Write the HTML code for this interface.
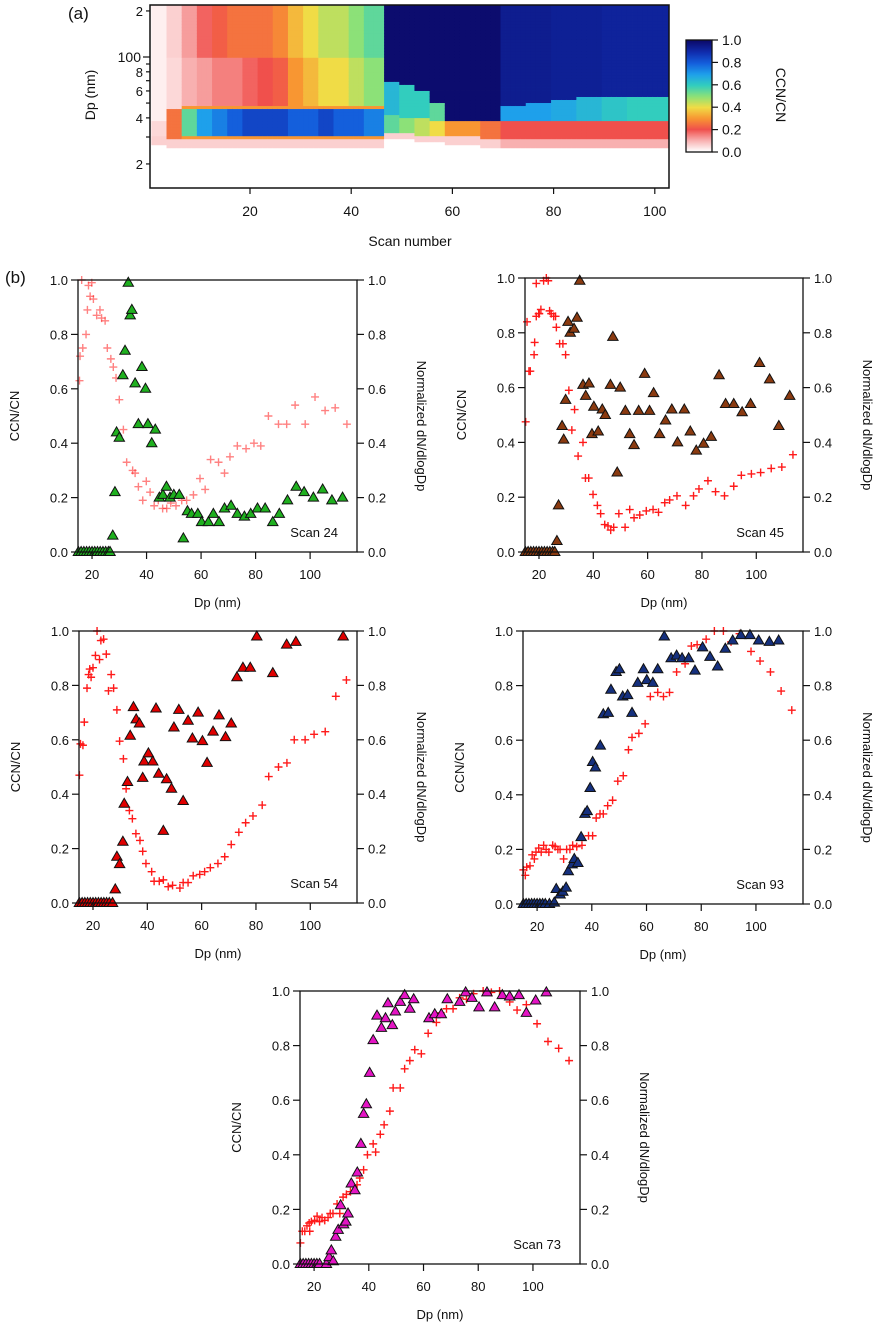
<!DOCTYPE html>
<html><head><meta charset="utf-8"><style>
html,body{margin:0;padding:0;background:#fff;}
svg{display:block;font-family:"Liberation Sans",Arial,sans-serif;}
</style></head><body>
<svg id="fig" width="873" height="1324" viewBox="0 0 873 1324"></svg>
<script>
// ---------- Heatmap segment data (scan-wise) ----------
const segStart   = [1,4,7,10,13,16,19,22,25,28,31,34,37,40,43,47,50,53,56,59,62,66,70,75,80,85,90,95,100];
const segLow     = [30,29,29,29,29,29,29,29,29,29,29,29,29,29,29,32,32,31,31,30,30,29,29,29,29,29,29,29,29];
const segBandTop = [38,45,48,49,49,49,49,49,49,49,49,49,48,48,48,42,40,40,38,38,38,38,39,39,39,39,39,39,39];
const segBandVal = [0.05,0.25,0.55,0.7,0.75,0.8,0.85,0.85,0.85,0.8,0.8,0.85,0.8,0.8,0.75,0.55,0.5,0.45,0.4,0.3,0.3,0.25,0.2,0.2,0.2,0.2,0.2,0.2,0.2];
const segMidVal  = [0.02,0.05,0.1,0.12,0.15,0.15,0.18,0.2,0.22,0.3,0.35,0.4,0.4,0.45,0.5,0.65,0.6,0.6,0.55,1,1,1,0.7,0.7,0.68,0.65,0.62,0.6,0.6];
const segSplit   = [100,100,100,100,100,100,100,100,100,100,100,100,100,100,100,70,65,60,50,38,38,38,48,50,52,55,55,55,55];
const segTopVal  = [0.02,0.06,0.12,0.18,0.22,0.25,0.25,0.25,0.28,0.35,0.4,0.45,0.45,0.5,0.55,1,1,1,1,1,1,1,0.95,0.95,0.94,0.94,0.93,0.93,0.93];
const nScans = 103;
const cbTicks = ["0.0","0.2","0.4","0.6","0.8","1.0"];
const hmXTicks = [20,40,60,80,100];

// ---------- Panel data ----------
const s24TriDp = [15,16,17,18,19,20,21,22,23,24,25,26,26.6,27.6,28.4,29,30,31.3,32.1,33.3,34,34.6,35.8,37,38.3,39.6,40.5,41.9,43.2,44.7,46,47.3,48.6,50,52,53.5,55,56.5,58.8,60.2,62.7,64.5,66.6,68.6,71,73.3,75.9,78.2,80.7,83.5,86.3,88.7,91.7,94.9,97.8,101.2,104.6,108,111.9];
const s24TriV  = [0,0,0,0,0,0,0,0,0,0,0,0,0,0.06,0.22,0.44,0.42,0.65,0.74,0.99,0.87,0.89,0.62,0.47,0.68,0.6,0.47,0.4,0.45,0.2,0.21,0.24,0.2,0.21,0.21,0.05,0.15,0.14,0.14,0.11,0.11,0.14,0.11,0.16,0.17,0.14,0.13,0.14,0.16,0.16,0.11,0.14,0.19,0.24,0.22,0.2,0.23,0.19,0.2];
const s24NDp = [15.4,15.6,16.6,17.8,18.3,16.2,18.7,19.9,19.3,20.5,21.7,22.9,23.5,24.8,25.6,26.9,27.8,28.8,30,31.5,32.7,34.9,35.8,37,38.6,39.9,41.3,42.8,44.3,45.9,47.4,48.9,50.8,52.9,54.7,57.2,59.6,61.5,63.5,66.4,68.6,70.6,73.3,76.5,79.4,81.9,84.7,88.4,91.4,94.5,98.2,101.8,105.5,109.2,113.5];
const s24N   = [0.63,0.72,0.75,0.8,0.89,1.0,0.98,0.99,0.94,0.93,0.87,0.89,0.86,0.85,0.75,0.71,0.68,0.64,0.56,0.45,0.33,0.3,0.29,0.24,0.19,0.26,0.22,0.17,0.19,0.16,0.16,0.18,0.17,0.19,0.19,0.21,0.27,0.23,0.34,0.33,0.29,0.35,0.39,0.38,0.4,0.39,0.5,0.47,0.47,0.54,0.47,0.57,0.52,0.53,0.47];

const s45TriDp = [15,16,17,18,19,20,21,22,23,24,25,25.8,26.6,27.2,28.5,29.1,29.8,30.7,31.5,32.9,34,35,36.2,37.2,38.4,39.5,40.2,41.8,43.3,44.4,46.3,47.2,48.8,49.9,51.8,53.4,55,56.7,58.9,60.7,62.2,64.4,66.6,68.9,71,73.5,75.7,77.9,80.6,83.4,86.3,88.7,91.7,94.8,97.9,101.2,104.9,108.3,112.3];
const s45TriV  = [0,0,0,0,0,0,0,0,0,0,0,0,0.04,0.17,0.46,0.41,0.555,0.84,0.8,0.815,0.855,0.99,0.61,0.57,0.615,0.43,0.53,0.44,0.52,0.5,0.61,0.785,0.29,0.6,0.515,0.43,0.39,0.515,0.65,0.515,0.58,0.43,0.48,0.52,0.4,0.52,0.44,0.37,0.395,0.42,0.645,0.54,0.54,0.51,0.54,0.69,0.63,0.46,0.57];
const s45NDp = [15.1,15.6,16.3,16.8,18.2,18.4,19,19.9,19,20.1,20.7,21.7,22.7,23.4,23.9,24.5,25.4,26.1,26.4,27.6,28.8,29.8,31,32.1,33.1,34.4,36.2,37.1,38.3,39.9,41.5,42.7,44.2,45.4,46.4,47.5,49.4,51.7,53.4,55,57.1,59.5,62,64,66.3,68.1,70.8,74,76.9,78.9,82.2,85,88.3,91.7,94.5,98.2,101.6,105.5,109.4,113.5];
const s45N   = [0.475,0.84,0.66,0.66,0.72,0.765,0.86,0.87,0.98,0.87,0.885,0.99,1.0,0.99,0.88,0.87,0.86,0.86,0.82,0.76,0.76,0.72,0.59,0.445,0.52,0.35,0.4,0.27,0.27,0.21,0.17,0.14,0.1,0.095,0.08,0.09,0.14,0.09,0.155,0.125,0.135,0.15,0.155,0.145,0.18,0.19,0.205,0.17,0.205,0.23,0.26,0.22,0.205,0.24,0.28,0.285,0.29,0.305,0.31,0.355];

const s54TriDp = [15,16,17,18,19,20,21,22,23,24,25,26,27.2,28.2,28.8,29.8,31,31.5,32.7,33.7,34.9,35.9,37.1,38.3,38.8,40.4,42,43.2,44.2,45.9,47.1,48.9,49.8,51.6,53.2,55,56.6,58.7,60.3,62,64.2,66.4,68.8,70.9,73,75.2,77.9,80.3,86.2,91.3,94.7,112.1];
const s54TriV  = [0,0,0,0,0,0,0,0,0,0,0,0,0,0.05,0.17,0.143,0.225,0.365,0.445,0.615,0.72,0.675,0.66,0.46,0.52,0.55,0.52,0.715,0.475,0.265,0.455,0.42,0.645,0.71,0.375,0.67,0.605,0.7,0.595,0.515,0.63,0.69,0.61,0.66,0.83,0.865,0.865,0.98,0.845,0.95,0.96,0.98];
const s54NDp = [15,15.4,16.3,16.8,17.8,18.4,18.8,19.3,20,20.9,21.5,22.4,22.9,23.9,24.9,25.7,26.7,27.6,28.8,29.8,31.2,32.2,33.4,34.5,35.8,37.3,38.3,39.5,41.6,42.5,44.4,45.9,47.7,49.3,52,53.2,55,56.9,59.3,61.1,63.2,66,68.5,70.9,73.7,76.2,78.9,82.3,84.7,88.3,91.4,94.1,98.1,101.4,105.5,109.4,113.3];
const s54N   = [0.47,0.585,0.58,0.665,0.79,0.84,0.86,0.83,0.865,0.91,1.0,0.895,0.965,0.97,0.915,0.78,0.84,0.79,0.71,0.595,0.53,0.42,0.34,0.31,0.255,0.23,0.19,0.145,0.115,0.08,0.08,0.085,0.06,0.065,0.055,0.075,0.075,0.1,0.105,0.115,0.13,0.145,0.17,0.215,0.26,0.295,0.32,0.36,0.465,0.5,0.515,0.6,0.6,0.62,0.63,0.76,0.82];

const s93TriDp = [15,16,17,18,19,20,21,22,23,24.5,26.3,27,28.4,29.4,30.6,31.4,32.8,33.6,34.9,36.1,37.5,38.3,39.4,40.3,41.3,43.1,44.2,46,47,48.9,50.1,51.3,53.1,54.7,56.8,58.9,60.1,62.3,64.1,66.5,69,71,73,75.4,77.7,80.5,83.2,86,88.8,91.5,94.5,97.8,101,104.9,108.3];
const s93TriV  = [0,0,0,0,0,0,0,0,0,0,0.005,0.055,0.035,0.045,0.06,0.12,0.145,0.165,0.15,0.245,0.33,0.34,0.425,0.52,0.5,0.58,0.695,0.7,0.785,0.85,0.86,0.76,0.765,0.7,0.81,0.86,0.82,0.81,0.86,0.98,0.9,0.91,0.9,0.9,0.855,0.94,0.905,0.87,0.935,0.965,0.985,0.985,0.965,0.96,0.965];
const s93NDp = [15,15.7,16.2,17.4,18.2,19,19.6,20.6,21.5,22.4,23.3,24.3,25.7,26.6,27.6,28.4,29.7,30.8,32,33,34.5,36.4,38.8,40.3,41.6,43,44.2,45.8,47.6,49.5,51.5,53.4,54.7,57.2,59.5,61.4,64.1,66.2,68.4,71,74.1,76.4,78.5,81.8,84.8,88.1,90.9,94,98.2,101.5,105.3,109.2,113.1];
const s93N   = [0.125,0.105,0.135,0.14,0.18,0.165,0.19,0.205,0.19,0.215,0.2,0.19,0.215,0.21,0.2,0.2,0.165,0.2,0.2,0.215,0.21,0.215,0.25,0.25,0.315,0.33,0.33,0.36,0.38,0.45,0.47,0.565,0.61,0.625,0.66,0.76,0.775,0.76,0.775,0.85,0.88,0.945,0.95,0.97,1.0,1.0,0.96,0.99,0.925,0.89,0.85,0.78,0.71];

const s73TriDp = [15,16,17,18,19,20,21,22,24.5,25.5,26.3,27,27.9,28.8,29.7,30.8,31.6,32.4,33.6,34.9,35.8,37.1,38.1,39.1,40.3,41.6,43,44.6,46.1,47,48.6,49.7,51.5,53.1,55,56.4,62,64.1,66.5,68.7,73.2,75.4,77.7,80.3,83.2,86,88.8,91.5,94.9,97.6,101,104.9];
const s73TriV  = [0,0,0,0,0,0,0,0,0,0.025,0.05,0.01,0.1,0.125,0.215,0.145,0.155,0.185,0.295,0.27,0.335,0.44,0.55,0.585,0.7,0.82,0.91,0.865,0.9,0.955,0.875,0.925,0.96,0.985,0.935,0.97,0.9,0.915,0.915,0.97,0.96,0.995,0.975,0.94,0.995,0.94,0.985,0.98,0.985,0.92,0.965,0.995];
const s73NDp = [15,15.7,16.6,17.4,18.4,18.2,19,20.2,21.1,22,22.9,23.9,25.1,25.9,26.9,28.4,29.4,30.6,31.8,33.3,35.7,36.7,38.1,39.5,41.6,42.5,44.2,45.6,47.7,48.9,51.5,53.1,55,56.8,59.2,61.7,64.7,66.3,68.4,70.8,73.2,75.7,78.3,81.8,84.8,87.8,91.5,94.2,97.6,101.5,105.5,109.4,113.2];
const s73N   = [0.077,0.12,0.12,0.14,0.12,0.15,0.155,0.16,0.175,0.155,0.17,0.16,0.17,0.185,0.185,0.22,0.185,0.245,0.255,0.265,0.29,0.315,0.345,0.4,0.44,0.41,0.475,0.51,0.56,0.645,0.645,0.715,0.745,0.785,0.77,0.845,0.885,0.92,0.935,0.935,0.975,0.97,0.99,1.0,0.995,1.0,0.96,0.93,0.95,0.88,0.815,0.79,0.745];

const yTickVals = [0,0.2,0.4,0.6,0.8,1.0];
const xTickVals = [20,40,60,80,100];

const NS = "http://www.w3.org/2000/svg";
const svg = document.getElementById('fig');
function mk(tag, attrs, parent){
  const e = document.createElementNS(NS, tag);
  for (const k in attrs) e.setAttribute(k, attrs[k]);
  (parent||svg).appendChild(e);
  return e;
}
function txt(s, x, y, size, anchor, parent, rot){
  const t = mk('text', {x:x, y:y, 'font-size':size, 'text-anchor':anchor||'start', fill:'#111'}, parent);
  if (rot) t.setAttribute('transform', 'rotate('+rot+' '+x+' '+y+')');
  t.textContent = s;
  return t;
}

const cmStops = [[0,[255,255,255]],[0.1,[248,176,176]],[0.2,[240,80,76]],[0.3,[248,150,50]],[0.4,[240,220,70]],[0.5,[140,225,120]],[0.6,[50,205,190]],[0.7,[30,160,235]],[0.8,[20,95,220]],[0.9,[16,45,175]],[1.0,[12,12,110]]];
function cmap(v){
  v = Math.max(0, Math.min(1, v));
  for (let i=1;i<cmStops.length;i++){
    if (v <= cmStops[i][0]){
      const a = cmStops[i-1], b = cmStops[i];
      const f = (v-a[0])/(b[0]-a[0]);
      const c = a[1].map((q,j)=>Math.round(q+(b[1][j]-q)*f));
      return 'rgb('+c.join(',')+')';
    }
  }
  return 'rgb(12,12,110)';
}

const hm = {l:150, r:669, t:5, b:188};
function hmX(s){ return 250 + (s-20)*5.06; }
function hmY(dp){ return 57 - 153*Math.log10(dp/100); }
function segIndex(s){ let k=0; for (let i=0;i<segStart.length;i++) if (s>=segStart[i]) k=i; return k; }
const defs = mk('defs', {});
const cp = mk('clipPath', {id:'hmclip'}, defs);
mk('rect', {x:hm.l, y:hm.t, width:hm.r-hm.l, height:hm.b-hm.t}, cp);
const hmG = mk('g', {'clip-path':'url(#hmclip)'});


const nBins = 62;
const dpMin = 13.5, dpMax = 225;
for (let s=1; s<=nScans; s++){
  const k = segIndex(s);
  const x0 = hmX(s-0.5), x1 = hmX(s+0.5);
  for (let j=0;j<nBins;j++){
    const d0 = dpMin*Math.pow(dpMax/dpMin, j/nBins);
    const d1 = dpMin*Math.pow(dpMax/dpMin, (j+1)/nBins);
    const dc = Math.sqrt(d0*d1);
    let v;
    if (dc < segLow[k]-3) v = 0;
    else if (dc < segLow[k]) v = (segStart[k] >= 70 ? 0.1 : 0.06);
    else if (dc < segBandTop[k]) {
      v = segBandVal[k];
      if (segStart[k] < 47 && segStart[k] > 1 && (dc < segLow[k]+2 || dc > segBandTop[k]-3)) v = Math.min(v, 0.3);
    }
    else if (dc < segSplit[k]) v = segMidVal[k];
    else v = segTopVal[k];
    const y0 = hmY(d1), y1 = hmY(d0);
    const c = mk('rect', {x:x0.toFixed(2), y:y0.toFixed(2), width:(x1-x0+0.4).toFixed(2), height:(y1-y0+0.4).toFixed(2), fill:cmap(v)}, hmG);
    
    
  }
}
const hmFrame = mk('rect', {x:hm.l, y:hm.t, width:hm.r-hm.l, height:hm.b-hm.t, fill:'none', stroke:'#111', 'stroke-width':1.5});


for (const v of hmXTicks){
  const x = hmX(v);
  mk('line', {x1:x, x2:x, y1:hm.b, y2:hm.b+6, stroke:'#111', 'stroke-width':1.2});
  const t = txt(String(v), x, hm.b+28, 14, 'middle');
  
  
}
const hmXT = txt('Scan number', 410, 246, 14, 'middle');


const hmMinor = [20,30,40,50,60,70,80,90,100,200];
const hmMajorLbl = {20:'2',40:'4',60:'6',80:'8',100:'100',200:'2'};
for (const d of hmMinor){
  const y = hmY(d);
  const major = d===100;
  mk('line', {x1:hm.l-(major?7:4), x2:hm.l, y1:y, y2:y, stroke:'#111', 'stroke-width':1.2});
  if (hmMajorLbl[d]){
    const t = txt(hmMajorLbl[d], hm.l-(major?9:7), y+5, 13, 'end');
    if (major) t.setAttribute('font-size', 14);
    
    
  }
}
const hmYT = txt('Dp (nm)', 95, 95, 14, 'middle', null, -90);


const la = txt('(a)', 68, 19, 17, 'start');



const cb = {l:686, r:712, t:40, b:152};
const cbG = mk('g', {});


for (let i=0;i<56;i++){
  const v = i/55;
  const y = cb.b - (cb.b-cb.t)*(i+1)/56;
  mk('rect', {x:cb.l, y:y.toFixed(2), width:cb.r-cb.l, height:((cb.b-cb.t)/56+0.5).toFixed(2), fill:cmap(v)}, cbG);
}
mk('rect', {x:cb.l, y:cb.t, width:cb.r-cb.l, height:cb.b-cb.t, fill:'none', stroke:'#111', 'stroke-width':1.3}, cbG);
cbTicks.forEach((s,i)=>{
  const y = cb.b - (cb.b-cb.t)*i/5;
  mk('line', {x1:cb.r, x2:cb.r+6, y1:y, y2:y, stroke:'#111', 'stroke-width':1.2}, cbG);
  const t = txt(s, cb.r+10, y+5, 14, 'start', cbG);
  
  
});
const cbT = txt('CCN/CN', 776, 95, 14, 'middle', null, 90);



const lb = txt('(b)', 5, 283, 17, 'start');



function panel(name, L, T, R, B, triDp, triV, nDp, nV, fill, crossOpacity, scanLabel){
  const g = mk('g', {});
  
  
  const xs = d => L + (d-14.85)*(R-L)/(117.2-14.85);
  const ys = v => B - v*(B-T);
  for (let i=0;i<nDp.length;i++){
    const x = xs(nDp[i]), y = ys(nV[i]);
    const p = mk('path', {d:'M'+(x-4)+' '+y+'H'+(x+4)+'M'+x+' '+(y-4)+'V'+(y+4), stroke:'#ff1a1a', 'stroke-width':1.4, fill:'none', opacity:crossOpacity}, g);
    
    
  }
  for (let i=0;i<triDp.length;i++){
    const x = xs(triDp[i]), y = ys(triV[i]);
    const p = mk('path', {d:'M'+x+' '+(y-5.5)+'L'+(x+5.2)+' '+(y+3.5)+'L'+(x-5.2)+' '+(y+3.5)+'Z', fill:fill, stroke:'#111', 'stroke-width':1}, g);
    
    
  }
  mk('rect', {x:L, y:T, width:R-L, height:B-T, fill:'none', stroke:'#111', 'stroke-width':1.3}, g);
  for (const v of yTickVals){
    const y = ys(v);
    mk('line', {x1:L-7, x2:L, y1:y, y2:y, stroke:'#111', 'stroke-width':1.2}, g);
    mk('line', {x1:R, x2:R+7, y1:y, y2:y, stroke:'#111', 'stroke-width':1.2}, g);
    const a = txt(v.toFixed(1), L-10, y+5, 13, 'end', g);
    
    
    const b = txt(v.toFixed(1), R+11, y+5, 13, 'start', g);
    
    
  }
  for (const v of xTickVals){
    const x = xs(v);
    mk('line', {x1:x, x2:x, y1:B, y2:B+7, stroke:'#111', 'stroke-width':1.2}, g);
    const a = txt(String(v), x, B+27, 13, 'middle', g);
    
    
  }
  const xt = txt('Dp (nm)', (L+R)/2, B+55, 13, 'middle', g);
  
  
  const yl = txt('CCN/CN', L-59, (T+B)/2, 13, 'middle', g, -90);
  
  
  const yr = txt('Normalized dN/dlogDp', R+60, (T+B)/2 + 10, 13, 'middle', g, 90);
  
  
  const sl = txt(scanLabel, R-19, B-15, 13, 'end', g);
  
  
}
panel('panel-scan-24', 78, 280, 357, 552, s24TriDp, s24TriV, s24NDp, s24N, '#1fb01f', 0.55, 'Scan 24');
panel('panel-scan-45', 525, 278, 803, 552, s45TriDp, s45TriV, s45NDp, s45N, '#8a3a10', 1, 'Scan 45');
panel('panel-scan-54', 79, 631, 357, 903, s54TriDp, s54TriV, s54NDp, s54N, '#e00000', 1, 'Scan 54');
panel('panel-scan-93', 523, 631, 803, 904, s93TriDp, s93TriV, s93NDp, s93N, '#15307e', 1, 'Scan 93');
panel('panel-scan-73', 300, 991, 580, 1264, s73TriDp, s73TriV, s73NDp, s73N, '#e414c4', 1, 'Scan 73');
</script>
</body></html>
